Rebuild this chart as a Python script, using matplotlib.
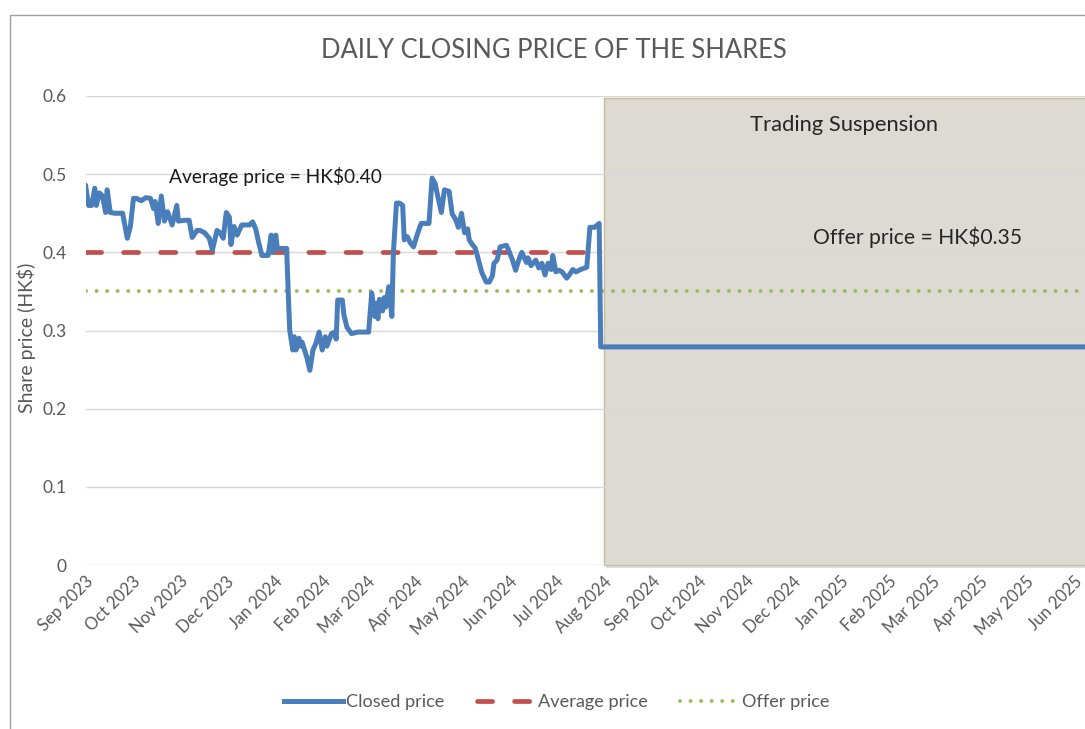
import matplotlib
matplotlib.use("Agg")
import matplotlib.pyplot as plt
import matplotlib.dates as mdates
import matplotlib.patheffects as pe
from matplotlib.patches import Rectangle
from matplotlib.lines import Line2D
import numpy as np
import pandas as pd

# ---------------- data ----------------
close_dates = [
    "2023-09-01", "2023-09-03", "2023-09-05", "2023-09-07", "2023-09-08", "2023-09-10",
    "2023-09-12", "2023-09-14", "2023-09-15", "2023-09-17", "2023-09-20", "2023-09-25",
    "2023-09-28", "2023-09-30", "2023-10-02", "2023-10-04", "2023-10-07", "2023-10-10",
    "2023-10-13", "2023-10-15", "2023-10-16", "2023-10-18", "2023-10-20", "2023-10-22",
    "2023-10-24", "2023-10-27", "2023-10-30", "2023-10-31", "2023-11-04", "2023-11-07",
    "2023-11-09", "2023-11-12", "2023-11-14", "2023-11-17", "2023-11-20", "2023-11-22",
    "2023-11-25", "2023-11-27", "2023-11-29", "2023-12-01", "2023-12-03", "2023-12-04",
    "2023-12-06", "2023-12-08", "2023-12-11", "2023-12-16", "2023-12-18", "2023-12-20",
    "2023-12-22", "2023-12-24", "2023-12-28", "2023-12-30", "2023-12-31", "2024-01-02",
    "2024-01-03", "2024-01-09", "2024-01-10", "2024-01-11", "2024-01-13", "2024-01-14",
    "2024-01-15", "2024-01-17", "2024-01-18", "2024-01-19", "2024-01-22", "2024-01-24",
    "2024-01-26", "2024-01-28", "2024-01-30", "2024-02-01", "2024-02-03", "2024-02-04",
    "2024-02-07", "2024-02-09", "2024-02-10", "2024-02-11", "2024-02-14", "2024-02-15",
    "2024-02-17", "2024-02-20", "2024-02-24", "2024-03-02", "2024-03-04", "2024-03-06",
    "2024-03-07", "2024-03-08", "2024-03-09", "2024-03-11", "2024-03-12", "2024-03-13",
    "2024-03-15", "2024-03-17", "2024-03-18", "2024-03-20", "2024-03-22", "2024-03-24",
    "2024-03-25", "2024-03-27", "2024-03-29", "2024-03-31", "2024-04-02", "2024-04-04",
    "2024-04-05", "2024-04-10", "2024-04-12", "2024-04-14", "2024-04-15", "2024-04-18",
    "2024-04-20", "2024-04-23", "2024-04-25", "2024-04-27", "2024-04-29", "2024-05-01",
    "2024-05-03", "2024-05-05", "2024-05-06", "2024-05-08", "2024-05-10", "2024-05-12",
    "2024-05-14", "2024-05-17", "2024-05-19", "2024-05-21", "2024-05-22", "2024-05-24",
    "2024-05-26", "2024-05-30", "2024-05-31", "2024-06-03", "2024-06-05", "2024-06-07",
    "2024-06-09", "2024-06-12", "2024-06-13", "2024-06-15", "2024-06-18", "2024-06-20",
    "2024-06-22", "2024-06-24", "2024-06-26", "2024-06-28", "2024-06-29", "2024-07-01",
    "2024-07-03", "2024-07-05", "2024-07-08", "2024-07-10", "2024-07-12", "2024-07-14",
    "2024-07-17", "2024-07-21", "2024-07-23", "2024-07-26", "2024-07-29", "2024-07-30",
    "2025-06-30",
]
close_prices = [
    0.486, 0.460, 0.460, 0.482, 0.460, 0.476,
    0.472, 0.451, 0.480, 0.451, 0.450, 0.450,
    0.418, 0.433, 0.469, 0.469, 0.466, 0.470,
    0.469, 0.456, 0.465, 0.437, 0.472, 0.440,
    0.452, 0.435, 0.460, 0.440, 0.441, 0.441,
    0.419, 0.428, 0.428, 0.425, 0.418, 0.403,
    0.428, 0.425, 0.418, 0.451, 0.445, 0.410,
    0.433, 0.422, 0.435, 0.435, 0.439, 0.430,
    0.412, 0.396, 0.396, 0.422, 0.400, 0.422,
    0.405, 0.405, 0.350, 0.300, 0.275, 0.292,
    0.275, 0.290, 0.280, 0.285, 0.266, 0.249,
    0.275, 0.284, 0.298, 0.275, 0.292, 0.280,
    0.296, 0.298, 0.289, 0.339, 0.339, 0.320,
    0.304, 0.296, 0.298, 0.298, 0.348, 0.318,
    0.335, 0.315, 0.340, 0.325, 0.342, 0.330,
    0.356, 0.318, 0.400, 0.463, 0.463, 0.460,
    0.416, 0.420, 0.412, 0.407, 0.420, 0.432,
    0.437, 0.437, 0.495, 0.488, 0.478, 0.451,
    0.480, 0.478, 0.449, 0.443, 0.432, 0.450,
    0.425, 0.430, 0.416, 0.410, 0.405, 0.390,
    0.375, 0.362, 0.362, 0.370, 0.386, 0.390,
    0.407, 0.409, 0.405, 0.390, 0.377, 0.390,
    0.400, 0.387, 0.393, 0.383, 0.390, 0.380,
    0.386, 0.371, 0.386, 0.378, 0.396, 0.375,
    0.377, 0.375, 0.367, 0.372, 0.378, 0.375,
    0.378, 0.381, 0.432, 0.432, 0.437, 0.279,
    0.279,
]
average_price = 0.40
average_period = ["2023-09-01", "2024-08-01"]
offer_price = 0.35
offer_period = ["2023-09-01", "2025-06-30"]
suspension_start = "2024-08-01"
suspension_end = "2025-07-31"
suspension_top = 0.597
axis_start = "2023-09-01"
axis_end = "2025-06-08"
month_ticks = pd.date_range("2023-09-01", "2025-06-01", freq="MS")
y_ticks = [0, 0.1, 0.2, 0.3, 0.4, 0.5, 0.6]
y_tick_labels = ["0", "0.1", "0.2", "0.3", "0.4", "0.5", "0.6"]

# ---------------- style ----------------
plt.rcParams["font.family"] = ["Lato", "DejaVu Sans"]
GREY = "#595959"
BLUE = "#4A7EBB"
RED = "#C0504D"
GREEN = "#9BBB59"
RED_DASH = (0, (3.2, 4.65))
GREEN_DOT = (0, (0.01, 2.7))

W, H = 1085, 729
fig = plt.figure(figsize=(W / 100, H / 100), dpi=100)
ax = fig.add_axes([85.5 / W, 1 - 565 / H, 1 - 85.5 / W, (565 - 96) / H])

d_close = pd.to_datetime(close_dates)
d_avg = pd.to_datetime(average_period)
d_off = pd.to_datetime(offer_period)

# gridlines
for yv in y_ticks:
    ax.axhline(yv, color="#D9D9D9", lw=1.0, zorder=1.6)

# suspension box
x0 = mdates.date2num(pd.Timestamp(suspension_start))
x1 = mdates.date2num(pd.Timestamp(suspension_end))
box = Rectangle((x0, 0), x1 - x0, suspension_top, facecolor="#DDDAD3",
                edgecolor="#C4BD97", lw=1.0, zorder=1.5, clip_on=False)
box.set_path_effects([pe.SimplePatchShadow(offset=(1.5, -2.5), shadow_rgbFace="#8c8c8c", alpha=0.3),
                      pe.Normal()])
ax.add_patch(box)

# series
ax.plot(d_close, close_prices, color=BLUE, lw=3.6, solid_joinstyle="round",
        solid_capstyle="round", zorder=3, label="Closed price")
ax.plot(d_avg, [average_price, average_price], color=RED, lw=3.4,
        linestyle=RED_DASH, dash_capstyle="round", zorder=2.5, label="Average price")
ax.plot(d_off, [offer_price, offer_price], color=GREEN, lw=2.8,
        linestyle=GREEN_DOT, dash_capstyle="round", zorder=2.4, label="Offer price")

ax.set_xlim(pd.Timestamp(axis_start), pd.Timestamp(axis_end))
ax.set_ylim(0, 0.6)
for s in ax.spines.values():
    s.set_visible(False)
ax.set_yticks(y_ticks)
ax.set_yticklabels(y_tick_labels)
ax.set_xticks(month_ticks)
ax.set_xticklabels([d.strftime("%b %Y") for d in month_ticks], rotation=45,
                   ha="right", rotation_mode="anchor")
ax.tick_params(axis="both", length=0, colors=GREY, labelsize=12)
ax.tick_params(axis="y", pad=13.5, labelsize=12.5)
ax.tick_params(axis="x", pad=6)

# annotations
ax.text(0.19, 0.829, "Average price = HK$0.40", transform=ax.transAxes, ha="center",
        va="center", fontsize=13.8, color="#1A1A1A", zorder=5)
ax.text(0.7585, 0.938, "Trading Suspension", transform=ax.transAxes, ha="center",
        va="center", fontsize=15.8, color="#262626", zorder=5)
ax.text(0.832, 0.699, "Offer price = HK$0.35", transform=ax.transAxes, ha="center",
        va="center", fontsize=15.2, color="#262626", zorder=5)

fig.text(554 / W, 1 - 50 / H, "DAILY CLOSING PRICE OF THE SHARES", ha="center",
         va="center", fontsize=18.4, color=GREY)
fig.text(27 / W, 1 - 338 / H, "Share price (HK$)", ha="center", va="center",
         rotation=90, fontsize=14, color=GREY)

# legend
handles = [
    Line2D([], [], color=BLUE, lw=3.6),
    Line2D([], [], color=RED, lw=3.4, linestyle=RED_DASH, dash_capstyle="round"),
    Line2D([], [], color=GREEN, lw=2.8, linestyle=GREEN_DOT, dash_capstyle="round"),
]
fig.legend(handles, ["Closed price", "Average price", "Offer price"], loc="center",
           bbox_to_anchor=(557 / W, 1 - 702 / H), ncol=3, frameon=False,
           fontsize=13.1, labelcolor=GREY, handlelength=3.2, handletextpad=0.2,
           columnspacing=1.75)

# chart area border
fig.add_artist(Rectangle((10 / W, -0.1), 2.0, 1 - 15 / H + 0.1, transform=fig.transFigure,
                         fill=False, edgecolor="#A0A0A0", lw=1.0))

fig.savefig("out.png", dpi=100)
